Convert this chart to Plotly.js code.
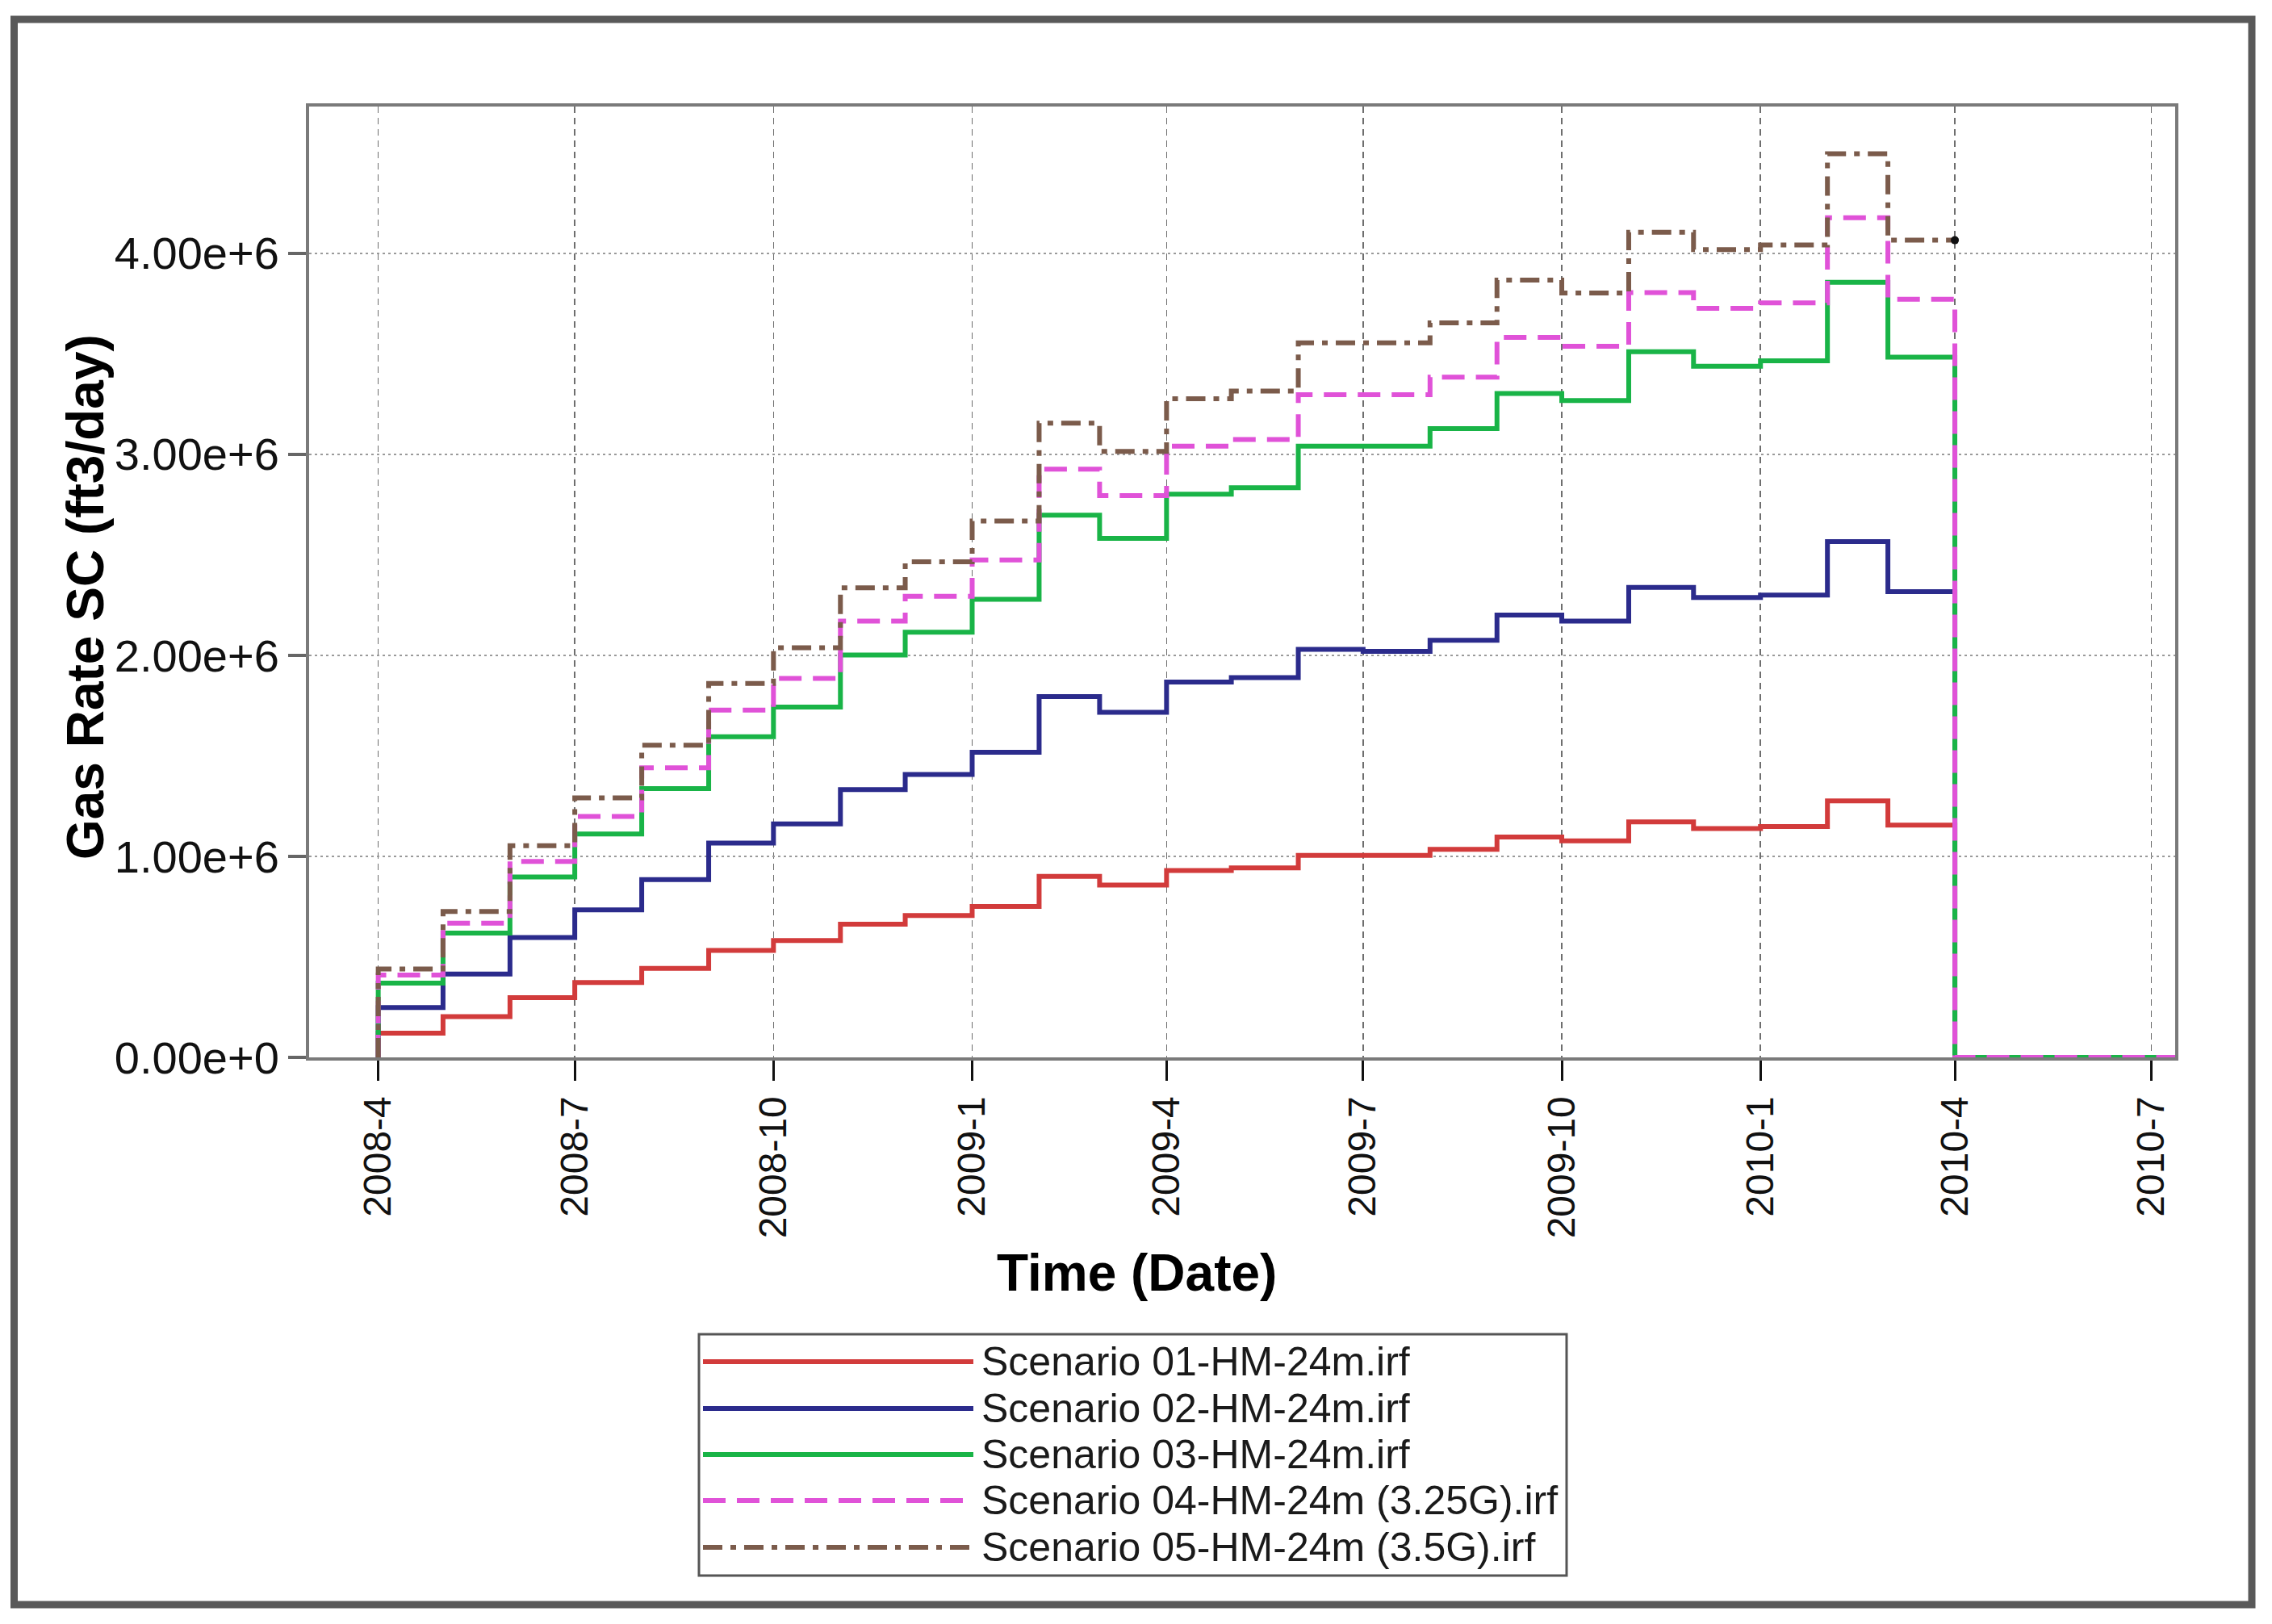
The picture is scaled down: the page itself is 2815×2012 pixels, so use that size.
<!DOCTYPE html>
<html><head><meta charset="utf-8">
<script src="https://cdn.plot.ly/plotly-3.0.1.min.js"></script>
<style>html,body{margin:0;padding:0;background:#fff;} #chart{width:2815px;height:2012px;}</style>
</head><body><div id="chart"></div>
<script>
// ---- data (values in millions of ft3/day) ----
const months = ['2008-04-01','2008-05-01','2008-06-01','2008-07-01','2008-08-01','2008-09-01','2008-10-01','2008-11-01','2008-12-01',
  '2009-01-01','2009-02-01','2009-03-01','2009-04-01','2009-05-01','2009-06-01','2009-07-01','2009-08-01','2009-09-01','2009-10-01','2009-11-01','2009-12-01',
  '2010-01-01','2010-02-01','2010-03-01'];
const endDate = '2010-04-01';
const tailDate = '2010-08-01';
const UNIT = 1e6;

const scenario01 = [0.120,0.203,0.297,0.372,0.443,0.532,0.581,0.663,0.706,0.751,0.900,0.857,0.930,0.943,1.005,1.005,1.035,1.096,1.077,1.171,1.138,1.148,1.276,1.155];
const scenario02 = [0.248,0.415,0.596,0.734,0.884,1.066,1.161,1.332,1.407,1.518,1.795,1.717,1.867,1.889,2.030,2.020,2.075,2.200,2.170,2.338,2.288,2.300,2.566,2.317];
const scenario03 = [0.369,0.618,0.897,1.111,1.337,1.595,1.743,2.002,2.115,2.279,2.697,2.582,2.802,2.834,3.041,3.041,3.128,3.303,3.267,3.510,3.438,3.465,3.856,3.483];
const scenario04 = [0.410,0.668,0.975,1.199,1.440,1.728,1.885,2.170,2.294,2.474,2.926,2.795,3.041,3.074,3.297,3.297,3.384,3.582,3.537,3.804,3.726,3.753,4.177,3.771];
const scenario05 = [0.440,0.726,1.053,1.291,1.553,1.860,2.038,2.336,2.465,2.668,3.155,3.014,3.276,3.315,3.555,3.555,3.654,3.867,3.802,4.105,4.018,4.041,4.495,4.065];

const seriesNames = ['Scenario 01-HM-24m.irf','Scenario 02-HM-24m.irf','Scenario 03-HM-24m.irf','Scenario 04-HM-24m (3.25G).irf','Scenario 05-HM-24m (3.5G).irf'];
const tickDates = ['2008-04-01','2008-07-01','2008-10-01','2009-01-01','2009-04-01','2009-07-01','2009-10-01','2010-01-01','2010-04-01','2010-07-01'];
const tickLabels = ['2008-4','2008-7','2008-10','2009-1','2009-4','2009-7','2009-10','2010-1','2010-4','2010-7'];
const yTicks = [0,1e6,2e6,3e6,4e6];
const xTitle = 'Time (Date)';
const yTitle = 'Gas Rate SC (ft3/day)';

// ---- styles ----
const FONT = 'Arial, "Liberation Sans", sans-serif';
const styles = [
  {color:'#d23b3b', dash:'solid'},
  {color:'#2b2b8c', dash:'solid'},
  {color:'#19b447', dash:'solid'},
  {color:'#e052d8', dash:'28px,14px'},
  {color:'#7b5b4b', dash:'24px,10px,7px,10px'}
];
const LW = 6;
const allSeries = [scenario01, scenario02, scenario03, scenario04, scenario05];

const traces = allSeries.map((vals, i) => {
  const y = vals.map(v => v * UNIT);
  let xs, ys;
  if (i === 4) {
    xs = [months[0], ...months, endDate];
    ys = [0, ...y, y[y.length - 1]];
  } else {
    xs = [months[0], ...months, endDate, tailDate];
    ys = [0, ...y, 0, 0];
  }
  return {
    type: 'scatter', mode: 'lines', name: seriesNames[i], x: xs, y: ys,
    line: {shape: 'hv', color: styles[i].color, width: LW, dash: styles[i].dash},
    showlegend: false, hoverinfo: 'skip'
  };
});
// end marker on scenario 05
traces.push({type:'scatter', mode:'markers', x:[endDate], y:[scenario05[scenario05.length-1]*UNIT],
  marker:{color:'#111', size:10}, showlegend:false, hoverinfo:'skip'});

// ---- layout geometry (pixels) ----
const W = 2815, H = 2012;
const M = {l:383, r:120, t:132, b:702};
const PW = W - M.l - M.r, PH = H - M.t - M.b;
const px = v => (v - M.l) / PW;
const py = v => (H - M.b - v) / PH;

const shapes = [];
const annotations = [];
// outer frame
shapes.push({type:'rect', xref:'paper', yref:'paper', x0:px(17.5), x1:px(2790), y0:py(24), y1:py(1988),
  line:{color:'#595959', width:9}, fillcolor:'rgba(0,0,0,0)', layer:'below'});
// axis titles
annotations.push({xref:'paper', yref:'paper', x:px(1408), y:py(1577), xanchor:'center', yanchor:'middle',
  text:'<b>'+xTitle+'</b>', showarrow:false, font:{family:FONT, size:64, color:'#000'}});
annotations.push({xref:'paper', yref:'paper', x:px(106), y:py(740), xanchor:'center', yanchor:'middle', textangle:-90,
  text:'<b>'+yTitle+'</b>', showarrow:false, font:{family:FONT, size:64, color:'#000'}});
// legend box
shapes.push({type:'rect', xref:'paper', yref:'paper', x0:px(866), x1:px(1941), y0:py(1653), y1:py(1952),
  line:{color:'#555', width:3}, fillcolor:'#fff'});
const rowY = [1687, 1745, 1802, 1859, 1917];
rowY.forEach((ry, i) => {
  shapes.push({type:'line', xref:'paper', yref:'paper', x0:px(871), x1:px(1206), y0:py(ry), y1:py(ry),
    line:{color:styles[i].color, width:LW, dash:styles[i].dash}});
  annotations.push({xref:'paper', yref:'paper', x:px(1214), y:py(ry), xanchor:'left', yanchor:'middle',
    text:seriesNames[i], showarrow:false, font:{family:FONT, size:50, color:'#1a1a1a'}});
});

const layout = {
  width: W, height: H,
  margin: M,
  paper_bgcolor: '#fff', plot_bgcolor: '#fff',
  showlegend: false,
  font: {family: FONT, color: '#111'},
  xaxis: {
    type: 'date', range: ['2008-02-29', '2010-07-12'],
    tickmode: 'array', tickvals: tickDates, ticktext: tickLabels, tickangle: -90,
    tickfont: {size: 48, color: '#111'},
    ticks: 'outside', ticklen: 25, tickwidth: 3, tickcolor: '#111',
    showgrid: true, gridcolor: '#6e6e6e', gridwidth: 1.5, griddash: '8px,6px',
    showline: true, linecolor: '#7a7a7a', linewidth: 4, mirror: true,
    zeroline: false, layer: 'below traces'
  },
  yaxis: {
    range: [0, 4.73e6],
    tickmode: 'array', tickvals: yTicks, tickformat: '.2e',
    tickfont: {size: 56, color: '#111'},
    ticks: 'outside', ticklen: 22, tickwidth: 4, tickcolor: '#666',
    showgrid: true, gridcolor: '#9a9a9a', gridwidth: 2.5, griddash: '3px,4px',
    showline: true, linecolor: '#7a7a7a', linewidth: 4, mirror: true,
    zeroline: false, layer: 'below traces'
  },
  shapes: shapes,
  annotations: annotations
};

Plotly.newPlot('chart', traces, layout, {staticPlot: true, displayModeBar: false});
</script>
</body></html>
